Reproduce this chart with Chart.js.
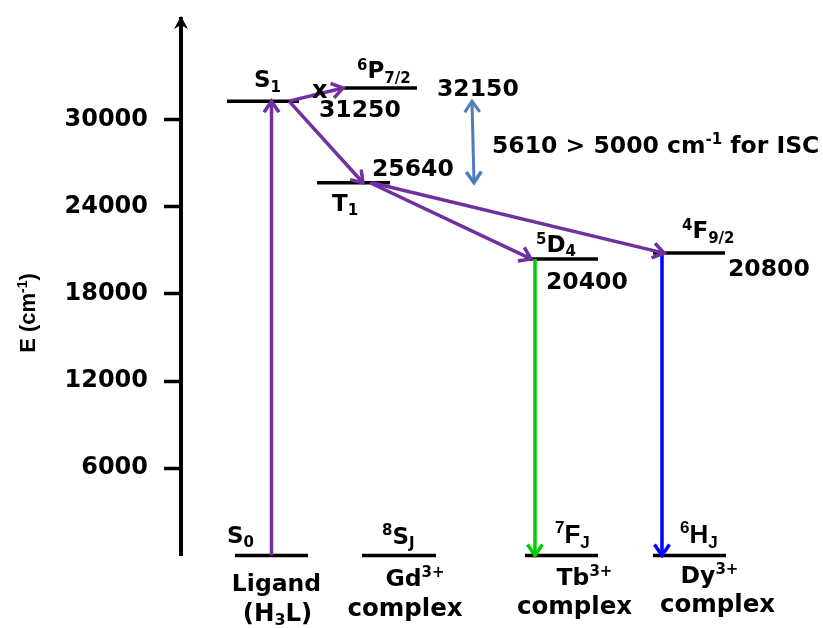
<!DOCTYPE html>
<html>
<head>
<meta charset="utf-8">
<script src="https://cdn.jsdelivr.net/npm/chart.js@4/dist/chart.umd.min.js"></script>
<style>
  html, body { margin: 0; padding: 0; background: #fff; }
  canvas { display: block; }
</style>
</head>
<body>
<canvas id="diagram" width="823" height="628"></canvas>
<script>
// ---- Energy levels (cm-1) ----
const levelIds      = ['S0', 'S1', 'T1', '8SJ', '6P', '7FJ', '5D4', '6HJ', '4F'];
const levelNames    = ['S_{0}', 'S_{1}', 'T_{1}', '^{8}S_{J}', '^{6}P_{7/2}', '^{7}F_{J}', '^{5}D_{4}', '^{6}H_{J}', '^{4}F_{9/2}'];
const levelEnergies = [0, 31250, 25640, 0, 32150, 0, 20400, 0, 20800];
const showValue     = [false, true, true, false, true, false, true, false, true];

// ---- Energy axis ticks ----
const yTicks = [6000, 12000, 18000, 24000, 30000];

// ---- Systems shown under the ground levels ----
const systemLevel = ['S0', '8SJ', '7FJ', '6HJ'];
const systemLine1 = ['Ligand', 'Gd^{3+}', 'Tb^{3+}', 'Dy^{3+}'];
const systemLine2 = ['(H_{3}L)', 'complex', 'complex', 'complex'];

// ---- Transitions between levels ----
const transFrom  = ['S0', 'S1', 'S1', 'T1', 'T1', '5D4', '4F'];
const transTo    = ['S1', '6P', 'T1', '5D4', '4F', '7FJ', '6HJ'];
const transColor = ['#7030a0', '#7030a0', '#7030a0', '#7030a0', '#7030a0', '#00cc00', '#0000ff'];
const transBlocked = [false, true, false, false, false, false, false];

// ---- Horizontal layout (x scale units) ----
const levelX0 = [54, 46, 136, 181, 163, 344, 345, 472, 472];
const levelX1 = [127, 118, 209, 255, 236, 417, 417, 545, 544];
const transX0 = [90.5, 108, 108, 189, 191, 354, 481];
const transX1 = [90.5, 162, 182, 350, 483, 354, 481];
const gapX    = [291, 293];
// label offsets in pixels: name relative to left end, value relative to left end
const nameOffset  = [[-8, -13], [27, -14], [15, 28], [20, -12], [13, -10], [30, -13], [10, -7], [27, -13], [29, -15]];
const valueOffset = [null, [92, 16], [55, -7], null, [93, 8], null, [20, 30], null, [75, 23]];
const sysOffset1  = [[5, 35], [16, 30], [23, 29], [20, 27]];
const sysOffset2  = [[6, 65], [6, 60], [13, 58], [28, 56]];

const idx = id => levelIds.indexOf(id);
const energy = id => levelEnergies[idx(id)];
const gapText = (energy('S1') - energy('T1')) + ' > 5000 cm^{-1} for ISC';

const FONT = "'DejaVu Sans', sans-serif";
const FONT2 = "'Liberation Sans', Arial, sans-serif";

// ---- rich text with ^{sup} and _{sub} ----
function parseRich(s) {
  const out = [];
  let i = 0;
  const isMark = k => (s[k] === '^' || s[k] === '_') && s[k + 1] === '{';
  while (i < s.length) {
    if (isMark(i)) {
      const j = s.indexOf('}', i);
      out.push({ t: s.slice(i + 2, j), k: s[i] });
      i = j + 1;
    } else {
      let j = i;
      while (j < s.length && !isMark(j)) j++;
      out.push({ t: s.slice(i, j), k: '' });
      i = j;
    }
  }
  return out;
}
function drawRich(ctx, s, x, y, size, family, align) {
  const segs = parseRich(s);
  const fontFor = k => `bold ${k ? Math.round(size * 0.64) : size}px ${family}`;
  let w = 0;
  segs.forEach(g => { ctx.font = fontFor(g.k); g.w = ctx.measureText(g.t).width; w += g.w; });
  let cx = align === 'center' ? x - w / 2 : align === 'right' ? x - w : x;
  ctx.textAlign = 'left';
  ctx.textBaseline = 'alphabetic';
  segs.forEach(g => {
    ctx.font = fontFor(g.k);
    const dy = g.k === '^' ? -size * 0.36 : g.k === '_' ? size * 0.2 : 0;
    ctx.fillText(g.t, cx, y + dy);
    cx += g.w;
  });
}
function arrowHead(ctx, x1, y1, x2, y2, len, half, color, width) {
  const a = Math.atan2(y2 - y1, x2 - x1);
  const bx = x2 - len * Math.cos(a), by = y2 - len * Math.sin(a);
  const px = -Math.sin(a), py = Math.cos(a);
  ctx.save();
  ctx.strokeStyle = color;
  ctx.lineWidth = width;
  ctx.lineJoin = 'miter';
  ctx.lineCap = 'butt';
  ctx.beginPath();
  ctx.moveTo(bx + half * px, by + half * py);
  ctx.lineTo(x2, y2);
  ctx.lineTo(bx - half * px, by - half * py);
  ctx.stroke();
  ctx.restore();
}

// ---- datasets ----
const datasets = [];
levelIds.forEach((id, i) => {
  datasets.push({
    data: [{ x: levelX0[i], y: levelEnergies[i] }, { x: levelX1[i], y: levelEnergies[i] }],
    borderColor: '#000', borderWidth: 3.5, pointRadius: 0, clip: false, order: 2
  });
});
transFrom.forEach((f, i) => {
  datasets.push({
    data: [{ x: transX0[i], y: energy(f) }, { x: transX1[i], y: energy(transTo[i]) }],
    borderColor: transColor[i], borderWidth: 3.5, pointRadius: 0, clip: false, order: 1,
    arrow: 'end', blocked: transBlocked[i]
  });
});
datasets.push({
  data: [{ x: gapX[0], y: energy('S1') }, { x: gapX[1], y: energy('T1') }],
  borderColor: '#4a7ebb', borderWidth: 3, pointRadius: 0, clip: false, order: 1,
  arrow: 'both', gapLabel: gapText
});

const decorations = {
  id: 'decorations',
  afterDatasetsDraw(chart) {
    const ctx = chart.ctx;
    chart.data.datasets.forEach((ds, i) => {
      if (!ds.arrow) return;
      const pts = chart.getDatasetMeta(i).data;
      const p0 = pts[0], p1 = pts[1];
      arrowHead(ctx, p0.x, p0.y, p1.x, p1.y, 11, 7.5, ds.borderColor, 3.5);
      if (ds.arrow === 'both') arrowHead(ctx, p1.x, p1.y, p0.x, p0.y, 11, 7.5, ds.borderColor, 3);
      if (ds.blocked) {
        const t = 0.57;
        const mx = p0.x + (p1.x - p0.x) * t, my = p0.y + (p1.y - p0.y) * t;
        ctx.save();
        ctx.fillStyle = '#000';
        ctx.font = `bold 24px ${FONT}`;
        ctx.textAlign = 'center';
        ctx.textBaseline = 'middle';
        ctx.fillText('x', mx, my - 2);
        ctx.restore();
      }
      if (ds.gapLabel) {
        ctx.save();
        ctx.fillStyle = '#000';
        drawRich(ctx, ds.gapLabel, p0.x + 20, (p0.y + p1.y) / 2 + 11, 23.5, FONT, 'left');
        ctx.restore();
      }
    });
  },
  afterDraw(chart) {
    const ctx = chart.ctx;
    const xs = chart.scales.x, ys = chart.scales.y;
    const area = chart.chartArea;
    ctx.save();
    ctx.fillStyle = '#000';
    // axis arrow tip
    const ax = area.left;
    ctx.beginPath();
    ctx.moveTo(ax, area.top - 3);
    ctx.lineTo(ax + 7, area.top + 10);
    ctx.lineTo(ax, area.top + 6);
    ctx.lineTo(ax - 7, area.top + 10);
    ctx.closePath();
    ctx.fill();
    // axis title
    ctx.save();
    ctx.translate(27, 313);
    ctx.rotate(-Math.PI / 2);
    drawRich(ctx, 'E (cm^{-1})', 0, 8, 22, FONT2, 'center');
    ctx.restore();
    // level names and values
    levelIds.forEach((id, i) => {
      const x0 = xs.getPixelForValue(levelX0[i]);
      const y = ys.getPixelForValue(levelEnergies[i]);
      const arial = (id === '7FJ' || id === '6HJ');
      drawRich(ctx, levelNames[i], x0 + nameOffset[i][0], y + nameOffset[i][1], arial ? 26 : 23, arial ? FONT2 : FONT, 'left');
      if (showValue[i]) {
        drawRich(ctx, String(levelEnergies[i]), x0 + valueOffset[i][0], y + valueOffset[i][1], 23.5, FONT, 'left');
      }
    });
    // system captions
    systemLevel.forEach((id, k) => {
      const i = idx(id);
      const cx = (xs.getPixelForValue(levelX0[i]) + xs.getPixelForValue(levelX1[i])) / 2;
      const y = ys.getPixelForValue(levelEnergies[i]);
      drawRich(ctx, systemLine1[k], cx + sysOffset1[k][0], y + sysOffset1[k][1], 23.5, FONT, 'center');
      drawRich(ctx, systemLine2[k], cx + sysOffset2[k][0], y + sysOffset2[k][1], 24.5, FONT, 'center');
    });
    ctx.restore();
  }
};

new Chart(document.getElementById('diagram'), {
  type: 'line',
  data: { datasets },
  options: {
    responsive: false,
    animation: false,
    devicePixelRatio: 1,
    layout: { padding: { left: 0, right: 2, top: 19, bottom: 72.5 } },
    plugins: { legend: { display: false }, tooltip: { enabled: false } },
    elements: { line: { tension: 0 } },
    scales: {
      x: { type: 'linear', min: 0, max: 640, display: false },
      y: {
        type: 'linear', min: 0, max: 36900,
        afterBuildTicks: scale => { scale.ticks = yTicks.map(v => ({ value: v })); },
        afterFit: scale => { scale.width = 181; scale.paddingTop = 0; scale.paddingBottom = 0; },
        border: { display: true, color: '#000', width: 4 },
        grid: { display: true, drawOnChartArea: false, drawTicks: true, tickLength: 17, tickColor: '#000', tickWidth: 3.5 },
        ticks: { color: '#000', padding: 16, font: { family: FONT, weight: 'bold', size: 24 }, callback: v => String(v) },
        title: { display: false }
      }
    }
  },
  plugins: [decorations]
});
</script>
</body>
</html>
